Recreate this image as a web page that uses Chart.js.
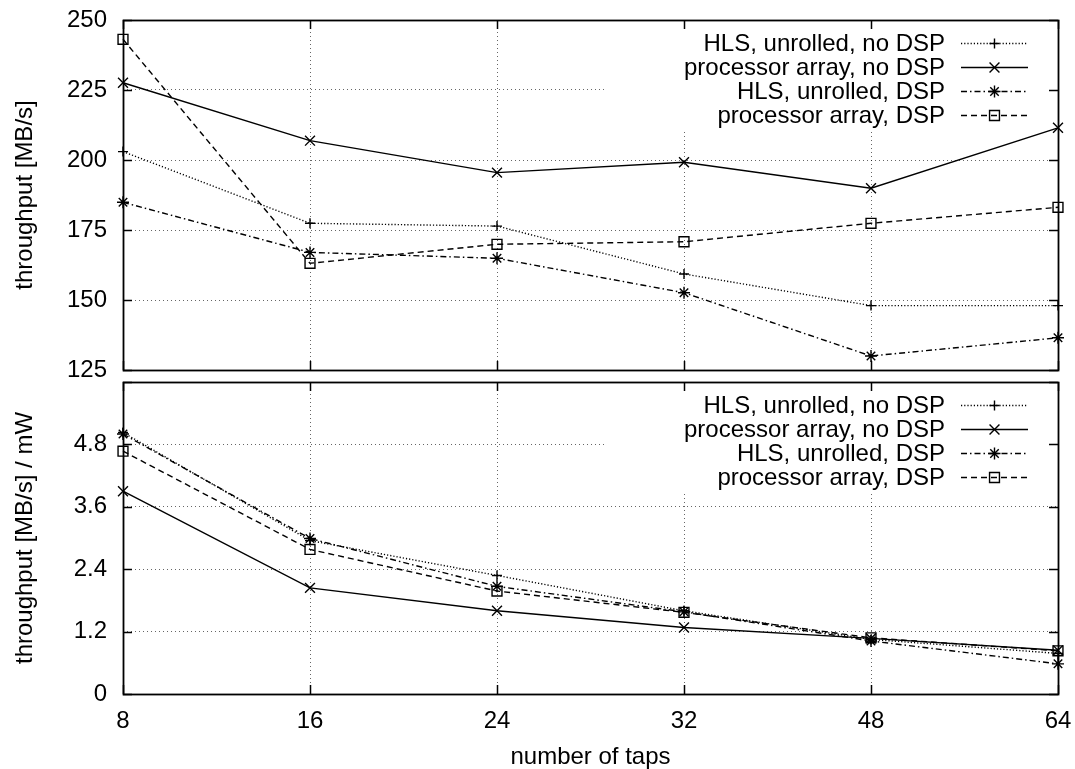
<!DOCTYPE html>
<html>
<head>
<meta charset="utf-8">
<title>FIR filter throughput vs. number of taps</title>
<script src="https://cdn.jsdelivr.net/npm/chart.js@4.4.1/dist/chart.umd.min.js"></script>
<style>
  html, body { margin: 0; padding: 0; background: #fff; }
  #wrap { position: relative; width: 1075px; height: 769px; overflow: hidden; }
  #wrap canvas { position: absolute; left: 0; }
  #power { top: 360px; }
  #tput { top: 0; }
</style>
</head>
<body>
<div id="wrap">
  <canvas id="power" width="1075" height="409"></canvas>
  <canvas id="tput" width="1075" height="400"></canvas>
</div>
<script>
// x categories: number of filter taps
const taps = ['8', '16', '24', '32', '48', '64'];

const seriesNames = [
  'HLS, unrolled, no DSP',
  'processor array, no DSP',
  'HLS, unrolled, DSP',
  'processor array, DSP'
];

// throughput [MB/s]
const tputHlsNoDsp = [203.0, 177.4, 176.4, 159.3, 148.0, 148.0];
const tputArrNoDsp = [227.6, 206.9, 195.5, 199.2, 189.9, 211.5];
const tputHlsDsp   = [184.9, 167.0, 164.9, 152.6, 130.0, 136.5];
const tputArrDsp   = [243.1, 163.1, 169.9, 170.8, 177.4, 183.1];

// throughput per power [MB/s] / mW
const effHlsNoDsp = [5.03, 2.95, 2.28, 1.60, 1.05, 0.78];
const effArrNoDsp = [3.90, 2.04, 1.60, 1.28, 1.07, 0.84];
const effHlsDsp   = [5.00, 2.99, 2.07, 1.58, 1.02, 0.58];
const effArrDsp   = [4.67, 2.78, 1.98, 1.57, 1.08, 0.83];

// y tick values and labels
const tputTicks = [125, 150, 175, 200, 225, 250];
const tputTickLabels = ['125', '150', '175', '200', '225', '250'];
const effTicks = [0, 1.2, 2.4, 3.6, 4.8, 6];
const effTickLabels = ['0', '1.2', '2.4', '3.6', '4.8', ''];

// gnuplot-like line types: dotted, solid, dash-dot, dashed
const lineDash = [[1.2, 2], [], [6, 3, 1.5, 3], [6, 4]];
const markers = ['cross', 'crossRot', 'star', 'rect'];
const markerRadius = [5, 7, 6, 7];

Chart.defaults.font.family = "'Liberation Sans', Arial, Helvetica, sans-serif";
Chart.defaults.font.size = 24;
Chart.defaults.color = '#000';

const GRID_COLOR = 'rgba(0,0,0,0.6)';
const TICK_LEN = 9;

function makeDatasets(seriesList) {
  return seriesList.map((vals, i) => ({
    label: seriesNames[i],
    data: vals,
    borderColor: '#000',
    backgroundColor: 'rgba(0,0,0,0)',
    borderWidth: 1.4,
    borderDash: lineDash[i],
    pointStyle: markers[i],
    pointRadius: markerRadius[i],
    pointBorderWidth: 1.4,
    pointBorderColor: '#000',
    pointBackgroundColor: 'rgba(0,0,0,0)',
    tension: 0,
    clip: false
  }));
}

// Key box, plot frame and inward tick marks drawn in gnuplot fashion
const gnuFrame = {
  id: 'gnuFrame',
  beforeDatasetsDraw(chart) {
    const { ctx, chartArea: a } = chart;
    ctx.save();
    ctx.fillStyle = '#fff';
    ctx.fillRect(607, a.top + 1, a.right - 607 - 1, 109);
    ctx.restore();
  },
  afterDatasetsDraw(chart) {
    const { ctx, chartArea: a } = chart;
    const xs = chart.scales.x, ys = chart.scales.y;
    ctx.save();
    ctx.strokeStyle = '#000';
    ctx.lineWidth = 1.5;
    ctx.setLineDash([]);
    ctx.beginPath();
    ys.ticks.forEach(t => {
      const y = Math.round(ys.getPixelForValue(t.value)) + 0.5;
      ctx.moveTo(a.left, y); ctx.lineTo(a.left + TICK_LEN, y);
      ctx.moveTo(a.right, y); ctx.lineTo(a.right - TICK_LEN, y);
    });
    taps.forEach((_, i) => {
      const x = Math.round(xs.getPixelForValue(i)) + 0.5;
      ctx.moveTo(x, a.top); ctx.lineTo(x, a.top + TICK_LEN);
      ctx.moveTo(x, a.bottom); ctx.lineTo(x, a.bottom - TICK_LEN);
    });
    ctx.stroke();
    ctx.lineWidth = 1.8;
    ctx.strokeRect(Math.round(a.left) + 0.5, Math.round(a.top) + 0.5,
                   Math.round(a.right - a.left), Math.round(a.bottom - a.top));

    // key
    const textRight = a.right - 113;
    const sampleL = a.right - 97, sampleR = a.right - 30;
    ctx.font = "24px 'Liberation Sans', Arial, sans-serif";
    ctx.fillStyle = '#000';
    ctx.textAlign = 'right';
    ctx.textBaseline = 'middle';
    chart.data.datasets.forEach((ds, i) => {
      const y = a.top + 23 + 24 * i;
      ctx.fillText(ds.label, textRight, y + 1);
      ctx.save();
      ctx.lineWidth = 1.4;
      ctx.setLineDash(ds.borderDash);
      ctx.beginPath();
      ctx.moveTo(sampleL, y + 0.5); ctx.lineTo(sampleR, y + 0.5);
      ctx.stroke();
      ctx.setLineDash([]);
      ctx.strokeStyle = '#000';
      ctx.fillStyle = 'rgba(0,0,0,0)';
      Chart.helpers.drawPoint(ctx, { pointStyle: ds.pointStyle, radius: ds.pointRadius, rotation: 0, borderWidth: 1.4 },
                              (sampleL + sampleR) / 2, y + 0.5);
      ctx.restore();
    });
    ctx.restore();
  }
};

function yAxis(min, max, tickVals, tickLabels, title, titlePad) {
  return {
    type: 'linear',
    min: min, max: max,
    afterBuildTicks: s => { s.ticks = tickVals.map(v => ({ value: v })); },
    afterFit: s => { s.width = 123; s.paddingTop = 0; s.paddingBottom = 0; },
    ticks: {
      padding: 16,
      callback: (v, idx) => tickLabels[idx]
    },
    grid: { color: GRID_COLOR, lineWidth: 1, drawTicks: false },
    border: { display: false, dash: [1, 3] },
    title: { display: true, text: title, padding: { top: titlePad, bottom: 0 }, font: { size: 24 } }
  };
}

const common = {
  type: 'line',
  plugins: [gnuFrame]
};

new Chart(document.getElementById('tput'), {
  ...common,
  data: {
    labels: taps,
    datasets: makeDatasets([tputHlsNoDsp, tputArrNoDsp, tputHlsDsp, tputArrDsp])
  },
  options: {
    responsive: false,
    animation: false,
    events: [],
    layout: { autoPadding: false, padding: { left: 0, right: 17, top: 20, bottom: 30 } },
    plugins: { legend: { display: false }, tooltip: { enabled: false } },
    scales: {
      x: {
        type: 'category',
        offset: false,
        afterFit: s => { s.height = 0; s.paddingLeft = 0; s.paddingRight = 0; },
        ticks: { display: false },
        grid: { color: GRID_COLOR, lineWidth: 1, drawTicks: false },
        border: { display: false, dash: [1, 3] }
      },
      y: yAxis(125, 250, tputTicks, tputTickLabels, 'throughput [MB/s]', 11)
    }
  }
});

new Chart(document.getElementById('power'), {
  ...common,
  data: {
    labels: taps,
    datasets: makeDatasets([effHlsNoDsp, effArrNoDsp, effHlsDsp, effArrDsp])
  },
  options: {
    responsive: false,
    animation: false,
    events: [],
    layout: { autoPadding: false, padding: { left: 0, right: 17, top: 22, bottom: 0 } },
    plugins: { legend: { display: false }, tooltip: { enabled: false } },
    scales: {
      x: {
        type: 'category',
        offset: false,
        afterFit: s => { s.height = 75; s.paddingLeft = 0; s.paddingRight = 0; },
        ticks: { padding: 13, maxRotation: 0, autoSkip: false },
        grid: { color: GRID_COLOR, lineWidth: 1, drawTicks: false },
        border: { display: false, dash: [1, 3] },
        title: { display: true, text: 'number of taps', padding: { top: 0, bottom: -3 }, font: { size: 24 } }
      },
      y: yAxis(0, 6, effTicks, effTickLabels, 'throughput [MB/s] / mW', 11)
    }
  }
});
</script>
</body>
</html>
